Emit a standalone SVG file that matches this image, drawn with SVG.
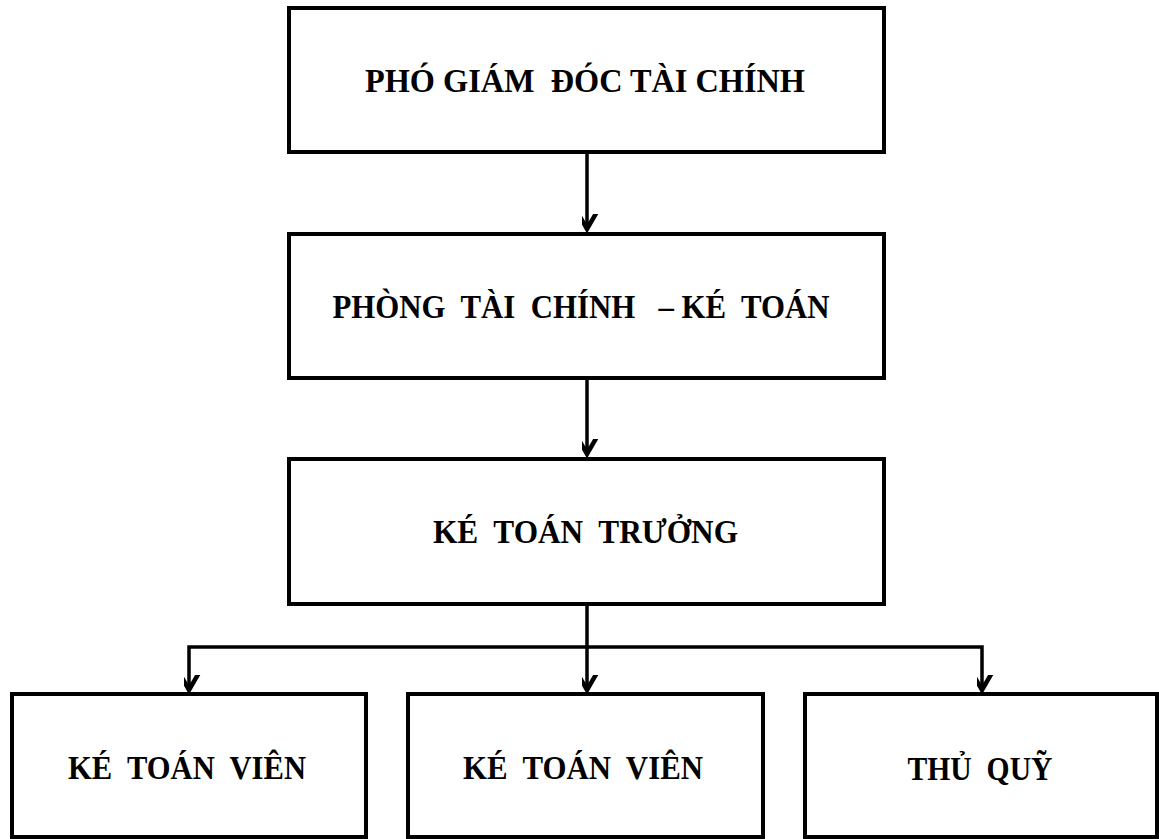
<svg xmlns="http://www.w3.org/2000/svg" width="1159" height="839" viewBox="0 0 1159 839">
  <defs>
    <style>
      .box { fill: #ffffff; stroke: #000000; stroke-width: 4; }
      .lbl { font-family: "Liberation Serif", "Times New Roman", serif; font-weight: bold; font-size: 34px; fill: #000000; text-anchor: middle; white-space: pre; }
      .wire { fill: none; stroke: #000000; stroke-width: 3.5; }
    </style>
    <marker id="chev" markerUnits="userSpaceOnUse" markerWidth="30" markerHeight="30" viewBox="-15 -25 30 30" refX="0" refY="0" orient="auto-start-reverse">
      <path d="M -11 -19 L 0 0 L 11 -19" fill="none" stroke="#000000" stroke-width="4.5" transform="rotate(-90)"/>
    </marker>
  </defs>

  <rect width="1159" height="839" fill="#ffffff"/>

  <g id="connectors">
    <path class="wire" d="M 587 152 L 587 229" marker-end="url(#chev)"/>
    <path class="wire" d="M 587 378 L 587 454" marker-end="url(#chev)"/>
    <path class="wire" d="M 587 604 L 587 690" marker-end="url(#chev)"/>
    <path class="wire" d="M 189 690 L 189 647 L 982 647 L 982 690" marker-start="url(#chev)" marker-end="url(#chev)"/>
  </g>

  <g id="pho-giam-doc">
    <rect class="box" x="289" y="8" width="595" height="144"/>
    <text class="lbl" x="585" y="92" textLength="440" lengthAdjust="spacingAndGlyphs">PHÓ GIÁM  ĐÓC TÀI CHÍNH</text>
  </g>

  <g id="phong-tai-chinh">
    <rect class="box" x="289" y="234" width="595" height="144"/>
    <text class="lbl" x="581" y="318" textLength="497" lengthAdjust="spacingAndGlyphs">PHÒNG  TÀI  CHÍNH   – KÉ  TOÁN</text>
  </g>

  <g id="ke-toan-truong">
    <rect class="box" x="289" y="459" width="595" height="145"/>
    <text class="lbl" x="585.5" y="543" textLength="305" lengthAdjust="spacingAndGlyphs">KÉ  TOÁN  TRƯỞNG</text>
  </g>

  <g id="ke-toan-vien-1">
    <rect class="box" x="12" y="694" width="354" height="143"/>
    <text class="lbl" x="187" y="779" textLength="238" lengthAdjust="spacingAndGlyphs">KÉ  TOÁN  VIÊN</text>
  </g>

  <g id="ke-toan-vien-2">
    <rect class="box" x="408" y="694" width="355" height="143"/>
    <text class="lbl" x="583" y="779" textLength="240" lengthAdjust="spacingAndGlyphs">KÉ  TOÁN  VIÊN</text>
  </g>

  <g id="thu-quy">
    <rect class="box" x="805" y="694" width="352" height="143"/>
    <text class="lbl" x="980" y="780" textLength="145" lengthAdjust="spacingAndGlyphs">THỦ  QUỸ</text>
  </g>
</svg>
